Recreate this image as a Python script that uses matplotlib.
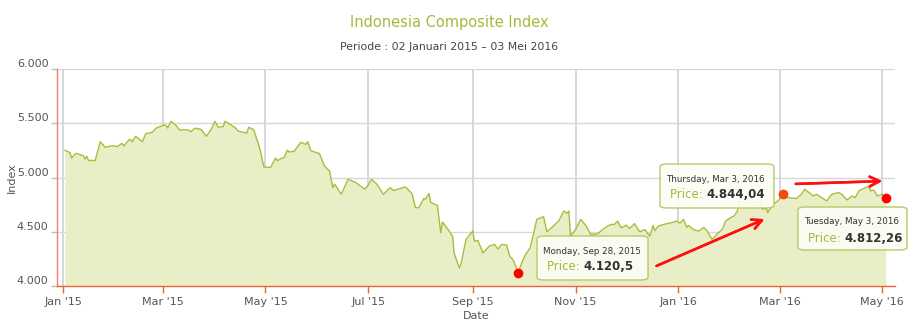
import numpy as np
import pandas as pd
import matplotlib
matplotlib.use("Agg")
import matplotlib.pyplot as plt
import matplotlib.dates as mdates
import matplotlib.ticker as ticker
from matplotlib.patches import FancyBboxPatch

# Data (approximate closing values)
dates = [
    "2015-01-02", "2015-01-05", "2015-01-06", "2015-01-08", "2015-01-09", "2015-01-13", "2015-01-14",
    "2015-01-15", "2015-01-16", "2015-01-20", "2015-01-23", "2015-01-26", "2015-01-28", "2015-01-30",
    "2015-02-02", "2015-02-05", "2015-02-06", "2015-02-09", "2015-02-10", "2015-02-11", "2015-02-13",
    "2015-02-17", "2015-02-19", "2015-02-23", "2015-02-25", "2015-03-02", "2015-03-03", "2015-03-04",
    "2015-03-06", "2015-03-09", "2015-03-11", "2015-03-16", "2015-03-18", "2015-03-20", "2015-03-23",
    "2015-03-24", "2015-03-27", "2015-03-30", "2015-04-01", "2015-04-03", "2015-04-06", "2015-04-07",
    "2015-04-10", "2015-04-13", "2015-04-15", "2015-04-20", "2015-04-21", "2015-04-24", "2015-04-27",
    "2015-04-28", "2015-04-30", "2015-05-04", "2015-05-07", "2015-05-08", "2015-05-11", "2015-05-12",
    "2015-05-14", "2015-05-15", "2015-05-18", "2015-05-22", "2015-05-25", "2015-05-26", "2015-05-28",
    "2015-06-01", "2015-06-02", "2015-06-05", "2015-06-08", "2015-06-10", "2015-06-11", "2015-06-12",
    "2015-06-15", "2015-06-19", "2015-06-24", "2015-06-26", "2015-06-29", "2015-07-01", "2015-07-03",
    "2015-07-06", "2015-07-10", "2015-07-14", "2015-07-16", "2015-07-23", "2015-07-27", "2015-07-29",
    "2015-07-31", "2015-08-03", "2015-08-04", "2015-08-06", "2015-08-07", "2015-08-11", "2015-08-13",
    "2015-08-14", "2015-08-17", "2015-08-20", "2015-08-21", "2015-08-24", "2015-08-25", "2015-08-28",
    "2015-09-01", "2015-09-02", "2015-09-04", "2015-09-07", "2015-09-11", "2015-09-14", "2015-09-16",
    "2015-09-18", "2015-09-21", "2015-09-23", "2015-09-25", "2015-09-28", "2015-09-30", "2015-10-02",
    "2015-10-05", "2015-10-07", "2015-10-09", "2015-10-13", "2015-10-15", "2015-10-18", "2015-10-22",
    "2015-10-25", "2015-10-27", "2015-10-28", "2015-10-29", "2015-11-01", "2015-11-04", "2015-11-07",
    "2015-11-10", "2015-11-14", "2015-11-17", "2015-11-20", "2015-11-22", "2015-11-24", "2015-11-26",
    "2015-11-28", "2015-12-01", "2015-12-03", "2015-12-06", "2015-12-09", "2015-12-12", "2015-12-15",
    "2015-12-17", "2015-12-18", "2015-12-20", "2015-12-24", "2015-12-27", "2015-12-31", "2016-01-02",
    "2016-01-04", "2016-01-06", "2016-01-07", "2016-01-10", "2016-01-13", "2016-01-16", "2016-01-18",
    "2016-01-19", "2016-01-21", "2016-01-24", "2016-01-27", "2016-01-29", "2016-02-01", "2016-02-03",
    "2016-02-05", "2016-02-06", "2016-02-09", "2016-02-12", "2016-02-15", "2016-02-17", "2016-02-19",
    "2016-02-20", "2016-02-22", "2016-02-23", "2016-02-26", "2016-02-29", "2016-03-03", "2016-03-06",
    "2016-03-11", "2016-03-14", "2016-03-16", "2016-03-21", "2016-03-23", "2016-03-26", "2016-03-29",
    "2016-04-01", "2016-04-05", "2016-04-07", "2016-04-10", "2016-04-13", "2016-04-15", "2016-04-17",
    "2016-04-21", "2016-04-23", "2016-04-24", "2016-04-26", "2016-04-28", "2016-05-01", "2016-05-03",
]
prices = [
    5250, 5231, 5179, 5216, 5222, 5200, 5170,
    5195, 5157, 5157, 5330, 5278, 5285, 5293,
    5285, 5314, 5290, 5348, 5348, 5330, 5380,
    5330, 5404, 5417, 5454, 5484, 5480, 5456,
    5518, 5480, 5438, 5440, 5422, 5454, 5447,
    5440, 5380, 5447, 5518, 5463, 5470, 5518,
    5490, 5460, 5426, 5410, 5463, 5441, 5300,
    5246, 5098, 5092, 5179, 5155, 5180, 5182,
    5253, 5235, 5241, 5324, 5305, 5330, 5246,
    5225, 5222, 5107, 5060, 4907, 4938, 4917,
    4845, 4984, 4950, 4925, 4892, 4930, 4984,
    4940, 4845, 4907, 4880, 4913, 4850, 4722,
    4722, 4806, 4800, 4852, 4770, 4743, 4491,
    4589, 4530, 4459, 4300, 4167, 4200, 4429,
    4506, 4413, 4420, 4305, 4370, 4382, 4340,
    4382, 4380, 4274, 4240, 4120.5, 4213, 4280,
    4352, 4475, 4614, 4639, 4500, 4540, 4600,
    4691, 4670, 4691, 4459, 4520, 4614, 4560,
    4475, 4480, 4520, 4552, 4567, 4567, 4598,
    4537, 4560, 4530, 4575, 4500, 4520, 4459,
    4558, 4510, 4552, 4570, 4580, 4598, 4580,
    4614, 4540, 4558, 4520, 4506, 4540, 4510,
    4480, 4429, 4480, 4521, 4598, 4630, 4645,
    4691, 4790, 4760, 4810, 4780, 4760, 4790,
    4706, 4722, 4676, 4753, 4784, 4844.04, 4815,
    4806, 4845, 4892, 4830, 4845, 4815, 4784,
    4845, 4861, 4845, 4793, 4830, 4815, 4876,
    4907, 4917, 4876, 4884, 4830, 4845, 4812.26,
]

# highlighted points and their tooltip texts
marked_dates = ["2015-09-28", "2016-03-03", "2016-05-03"]
marked_days = ["Monday, Sep 28, 2015", "Thursday, Mar 3, 2016", "Tuesday, May 3, 2016"]
marked_prices = ["4.120,5", "4.844,04", "4.812,26"]
marked_colors = ["#ff0000", "#f24a12", "#ff0000"]

y_ticks = [4000, 4500, 5000, 5500, 6000]

x = pd.to_datetime(dates)
y = np.array(prices)

W, H = 913, 327
fig = plt.figure(figsize=(W / 100, H / 100), dpi=100)
ax = fig.add_axes([57 / W, 1 - 286 / H, (895 - 57) / W, (286 - 69) / H])

line_col = "#a9bd3b"
ax.fill_between(x, y, 4000, color="#e9eec7", zorder=1, linewidth=0)
ax.plot(x, y, color=line_col, linewidth=1.0, zorder=2)

ax.set_ylim(4000, 6000)
ax.set_xlim(pd.Timestamp("2014-12-28 08:00"), pd.Timestamp("2016-05-08 12:00"))
ax.set_yticks(y_ticks)
ax.yaxis.set_major_formatter(ticker.FuncFormatter(lambda v, p: f"{int(v):,}".replace(",", ".")))
ax.xaxis.set_major_locator(mdates.MonthLocator(bymonth=[1, 3, 5, 7, 9, 11]))
ax.xaxis.set_major_formatter(mdates.DateFormatter("%b '%y"))

ax.grid(axis="y", color="#d8d8d8", linewidth=1.0, zorder=0)
ax.grid(axis="x", color="#cfcfcf", linewidth=1.2, zorder=0)
ax.set_axisbelow(True)

for s in ["top", "right"]:
    ax.spines[s].set_visible(False)
ax.spines["left"].set_color("#f2825f")
ax.spines["bottom"].set_color("#e8643c")
ax.spines["left"].set_linewidth(1.0)
ax.spines["bottom"].set_linewidth(1.0)

ax.tick_params(axis="x", colors="#e8643c", length=5, width=1, labelcolor="#555555", labelsize=8, pad=3)
ax.tick_params(axis="y", colors="#c0c0c0", length=4, width=1, labelcolor="#555555", labelsize=8, pad=2)
for lab in ax.get_yticklabels():
    lab.set_verticalalignment("bottom")

ax.set_xlabel("Date", color="#555555", fontsize=8, labelpad=3)
ax.set_ylabel("Index", color="#555555", fontsize=8, va="center")
ax.yaxis.set_label_coords((12 - 57) / (895 - 57), 0.5)

# titles
fig.text(449 / W, 1 - 22 / H, "Indonesia Composite Index", ha="center", va="center",
         color="#a5b93a", fontsize=10.5)
fig.text(449 / W, 1 - 47 / H, "Periode : 02 Januari 2015 \u2013 03 Mei 2016", ha="center", va="center",
         color="#444444", fontsize=7.8)

# red dots
for d, c in zip(marked_dates, marked_colors):
    i = dates.index(d)
    ax.plot(x[i], y[i], "o", color=c, markersize=6, zorder=5, clip_on=False)

# tooltips (pixel positions of boxes from the reference)
boxes = [(537, 236, 111, 44), (660, 164, 114, 44), (798, 207, 109, 43)]
for (bx, by, bw, bh), day, price in zip(boxes, marked_days, marked_prices):
    patch = FancyBboxPatch((bx / W, 1 - (by + bh) / H), bw / W, bh / H,
                           boxstyle="round,pad=0,rounding_size=0.008",
                           transform=fig.transFigure, facecolor="#fcfdf5", edgecolor="#b5c460",
                           linewidth=1.0, alpha=0.92, zorder=6)
    fig.add_artist(patch)
    fig.text((bx + 6) / W, 1 - (by + 15) / H, day, fontsize=6.3, color="#333333", va="center", zorder=7)
    t = fig.text((bx + 10) / W, 1 - (by + 31) / H, "Price: ", fontsize=8.5, color="#a5b93a",
                 va="center", zorder=7)
    fig.canvas.draw()
    ext = t.get_window_extent()
    fig.text(ext.x1 / W, 1 - (by + 31) / H, price, fontsize=8.5, color="#333333",
             fontweight="bold", va="center", zorder=7)

# red arrows
arrows = [((654, 267), (767, 218)), ((793, 184), (885, 181))]
for (x0, y0), (x1, y1) in arrows:
    fig.add_artist(plt.annotate("", xy=(x1, H - y1), xytext=(x0, H - y0),
                                xycoords="figure pixels", textcoords="figure pixels",
                                arrowprops=dict(arrowstyle="->,head_length=0.7,head_width=0.35",
                                                color="#ff1010", lw=1.8)))

fig.savefig("out.png", dpi=100)
